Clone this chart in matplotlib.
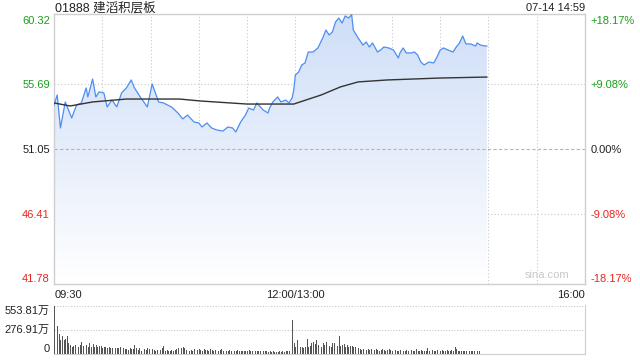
import matplotlib
matplotlib.use("Agg")
import matplotlib.pyplot as plt
import numpy as np
from matplotlib.colors import LinearSegmentedColormap

plt.rcParams["font.family"] = ["Liberation Sans", "Noto Sans CJK SC", "DejaVu Sans"]

title = "01888 建滔积层板"
stamp = "07-14 14:59"
prev_close = 51.05
price_ticks = [60.32, 55.69, 51.05, 46.41, 41.78]
pct_labels = ["+18.17%", "+9.08%", "0.00%", "-9.08%", "-18.17%"]
time_labels = ["09:30", "12:00/13:00", "16:00"]

# minutes since 09:30, lunch removed (13:00 == 150)
price_t = [0, 2, 4, 7, 11, 14, 17, 20, 21, 24, 26, 28, 31, 33, 36, 39, 42, 45, 48, 50,
           54, 58, 61, 65, 68, 73, 77, 80, 83, 87, 90, 92, 95, 98, 101, 105, 108, 111,
           113, 116, 119, 121, 124, 126, 130, 133, 134, 136, 139, 141, 144, 146, 148,
           149, 150, 152, 154, 156, 158, 161, 164, 167, 169, 171, 173, 175, 177, 179,
           181, 183, 185, 186, 189, 192, 194, 196, 198, 201, 203, 205, 208, 211, 214,
           215, 217, 219, 222, 224, 226, 228, 230, 233, 236, 238, 240, 242, 245, 248,
           250, 252, 254, 256, 259, 262, 263, 265, 268, 269]
price = [54.21, 54.93, 52.56, 54.43, 53.28, 54.21, 54.36, 55.44, 54.79, 56.08, 54.79,
         55.15, 55.08, 54.07, 54.57, 54.07, 55.08, 55.44, 56.01, 55.44, 54.72, 54.07,
         55.72, 54.43, 54.36, 54.07, 53.64, 53.21, 53.49, 52.99, 52.92, 52.63, 52.92,
         52.56, 52.42, 52.34, 52.63, 52.56, 52.27, 52.99, 53.49, 53.99, 53.85, 54.36,
         53.85, 53.64, 53.99, 54.43, 54.79, 54.43, 54.57, 54.36, 54.72, 55.29, 56.37,
         56.58, 57.09, 57.23, 58.02, 58.02, 58.31, 59.03, 59.60, 59.24, 59.46, 60.18,
         60.46, 60.10, 60.61, 60.46, 60.70, 59.60, 59.03, 58.52, 58.74, 58.38, 58.67,
         58.02, 58.16, 58.38, 58.31, 58.16, 57.59, 57.95, 58.31, 57.95, 57.95, 58.02,
         57.80, 57.30, 57.09, 57.30, 57.23, 57.66, 58.16, 58.31, 58.16, 58.02, 58.38,
         58.67, 59.17, 58.60, 58.60, 58.45, 58.67, 58.52, 58.45, 58.45]

avg_t = [0, 10, 24, 45, 78, 91, 120, 149, 166, 178, 189, 207, 240, 269]
avg_price = [54.36, 54.14, 54.43, 54.64, 54.64, 54.50, 54.28, 54.28, 54.93, 55.51,
             55.87, 56.01, 56.15, 56.22]

# volume per minute, in 万
volume = [554, 121, 316, 234, 158, 203, 158, 169, 207, 121, 102, 75, 90, 102, 83, 83,
          102, 139, 90, 151, 102, 75, 121, 83, 113, 83, 102, 83, 90, 90, 64, 83, 75, 64,
          75, 64, 64, 64, 70, 64, 64, 83, 70, 64, 55, 60, 45, 64, 55, 60, 102, 64, 45,
          64, 38, 45, 53, 45, 64, 53, 64, 53, 45, 38, 45, 53, 45, 64, 90, 38, 45, 38, 40,
          45, 38, 45, 53, 64, 45, 64, 75, 64, 45, 53, 38, 45, 40, 53, 75, 45, 53, 45, 38,
          53, 45, 45, 40, 53, 45, 38, 45, 53, 40, 45, 53, 38, 45, 40, 38, 45, 38, 35, 40,
          38, 45, 40, 35, 38, 40, 35, 38, 45, 38, 35, 40, 30, 35, 38, 30, 35, 30, 35, 30,
          26, 30, 26, 30, 26, 22, 26, 30, 26, 30, 26, 30, 35, 30, 45,
          384, 121, 83, 158, 64, 75, 83, 64, 83, 177, 83, 90, 121, 139, 113, 158, 102,
          165, 83, 121, 102, 139, 139, 90, 75, 121, 128, 113, 90, 203, 90, 102, 113, 83,
          102, 83, 90, 90, 75, 75, 83, 64, 53, 45, 53, 64, 45, 53, 45, 53, 38, 45, 53, 45,
          38, 45, 53, 45, 38, 45, 53, 45, 38, 35, 45, 38, 35, 45, 53, 38, 35, 45, 38, 35,
          45, 38, 35, 53, 38, 35, 45, 38, 35, 38, 64, 38, 35, 45, 38, 35, 45, 38, 35, 45,
          38, 35, 45, 38, 35, 45, 38, 75, 53, 38, 35, 38, 35, 30, 35, 38, 30, 35, 38, 30,
          35, 30, 35]
vol_ticks = [0, 276.91, 553.81]
vol_labels = ["0", "276.91万", "553.81万"]

green = "#1a9e1a"
red = "#e8251f"
grid_c = "#c8c8c8"
frame_c = "#cfcfcf"
fs = 8

fig = plt.figure(figsize=(6.4, 3.6), dpi=100)
ax = fig.add_axes([54 / 640, 1 - 284 / 360, 531 / 640, 270 / 360])
vax = fig.add_axes([54 / 640, 1 - 354 / 360, 531 / 640, 49 / 360])

ylo, yhi = 41.35, 60.75
ax.set_xlim(0, 330)
ax.set_ylim(ylo, yhi)

# gradient fill under the price line
cmap = LinearSegmentedColormap.from_list("fill", ["#ffffff", "#e6eefb", "#cfdef7"])
grad = np.linspace(0, 1, 256).reshape(-1, 1)
img = ax.imshow(grad, cmap=cmap, origin="lower", aspect="auto",
                extent=[0, 330, ylo, yhi], zorder=1)
poly = ax.fill_between(price_t, price, ylo, color="none", lw=0)
img.set_clip_path(poly.get_paths()[0], transform=ax.transData)

for x in range(30, 330, 30):
    ax.axvline(x, color=grid_c, lw=0.8, ls=(0, (1, 2)), zorder=0.5)
for y in (price_ticks[1], price_ticks[3]):
    ax.axhline(y, color=grid_c, lw=0.8, ls=(0, (1, 2)), zorder=0.5)
ax.axhline(prev_close, color="#b5b5b5", lw=0.8, ls=(0, (3, 2)), zorder=2)

ax.plot(price_t, price, color="#4d8ef0", lw=0.9, zorder=3)
ax.plot(avg_t, avg_price, color="#333333", lw=1.0, zorder=3)

ax.set_xticks([])
ax.set_yticks(price_ticks)
ax.set_yticklabels([f"{v:.2f}" for v in price_ticks], fontsize=fs)
colors = [green, green, "#222222", red, red]
for lbl, c in zip(ax.get_yticklabels(), colors):
    lbl.set_color(c)
ax.tick_params(axis="y", length=0, pad=3)
for s in ax.spines.values():
    s.set_color(frame_c)
    s.set_linewidth(1.0)

rax = ax.twinx()
rax.set_ylim(ylo, yhi)
rax.set_yticks(price_ticks)
rax.set_yticklabels(pct_labels, fontsize=fs)
for lbl, c in zip(rax.get_yticklabels(), colors):
    lbl.set_color(c)
rax.tick_params(axis="y", length=0, pad=4)
for s in rax.spines.values():
    s.set_visible(False)

fig.text(55 / 640, 1 - 8 / 360, title, fontsize=9, va="center", ha="left",
         color="#222222")
fig.text(585 / 640, 1 - 8 / 360, stamp, fontsize=fs, va="center", ha="right",
         color="#222222")
ax.text(320, 42.0, "sina.com", fontsize=8, color="#c8c8c8", ha="right", va="center")

ty = 1 - 295 / 360
fig.text(55 / 640, ty, time_labels[0], fontsize=fs, ha="left", va="center", color="#222222")
fig.text(295 / 640, ty, time_labels[1], fontsize=fs, ha="center", va="center", color="#222222")
fig.text(585 / 640, ty, time_labels[2], fontsize=fs, ha="right", va="center", color="#222222")

# volume panel
vt = np.arange(len(volume))
vax.bar(vt, volume, width=0.55, color="#555555", align="edge", zorder=2)
vax.set_xlim(0, 330)
vax.set_ylim(0, 560)
for v in vol_ticks[1:]:
    vax.axhline(v, color=grid_c, lw=0.8, ls=(0, (1, 1.5)), zorder=0.5)
vax.set_xticks([])
vax.set_yticks(vol_ticks)
vax.set_yticklabels(vol_labels, fontsize=fs, color="#222222")
for lbl, va in zip(vax.get_yticklabels(), ["bottom", "center", "top"]):
    lbl.set_va(va)
vax.tick_params(axis="y", length=0, pad=3)
vax.spines["top"].set_visible(False)
vax.spines["left"].set_visible(False)
vax.spines["right"].set_color(frame_c)
vax.spines["bottom"].set_color(frame_c)

fig.savefig("out.png", dpi=100)
